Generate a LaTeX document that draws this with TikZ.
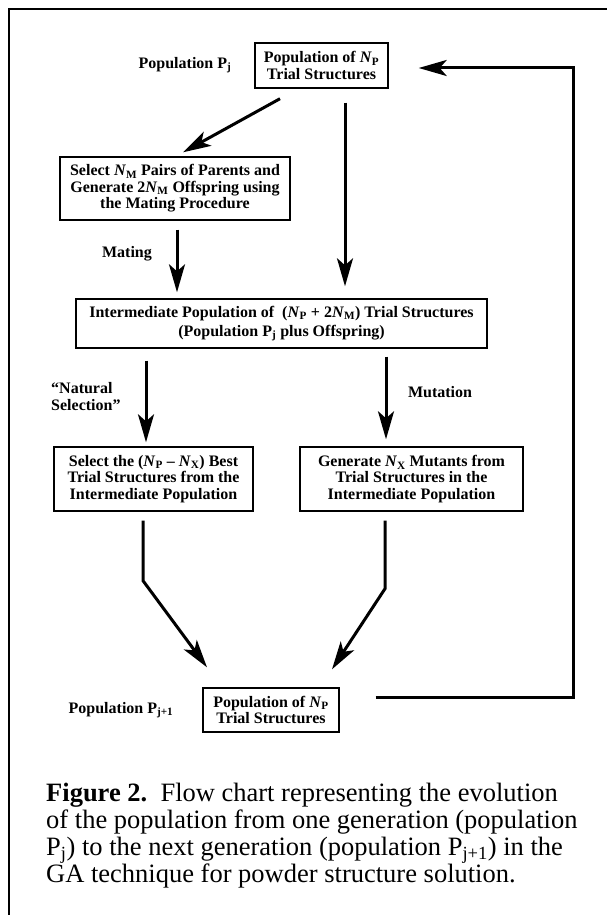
\documentclass[tikz,border=0pt]{standalone}
\usepackage{fontspec}
\setmainfont{Liberation Serif}
\usetikzlibrary{arrows.meta}
\begin{document}
\begin{tikzpicture}[x=1pt,y=-1pt,
  box/.style={draw, line width=1.4pt, inner sep=0pt, align=center, font=\bfseries\fontsize{16}{16.5}\selectfont},
  lbl/.style={inner sep=0pt, font=\bfseries\fontsize{16}{16.5}\selectfont},
  arr/.style={line width=3pt, -{Stealth[length=28pt,width=16pt,inset=7pt]}},
  frame/.style={line width=2pt}]
\useasboundingbox (0,0) rectangle (607,915);
\draw[frame] (9,915) -- (9,9) -- (607,9);

\node[box, minimum width=133pt, minimum height=45pt] (top) at (321.5,65.5) {Population of \textit{N}\textsubscript{P}\\Trial Structures};
\node[lbl] (pj) at (185,65) {Population P\textsubscript{j}};
\node[box, minimum width=230pt, minimum height=63pt] (sel) at (175,188.5) {Select \textit{N}\textsubscript{M} Pairs of Parents and\\Generate 2\textit{N}\textsubscript{M} Offspring using\\the Mating Procedure};
\node[lbl] (mating) at (127,254) {Mating};
\node[box, minimum width=411pt, minimum height=49pt, font=\bfseries\fontsize{16}{19}\selectfont] (inter) at (281.5,323.5) {Intermediate Population of\ \ (\textit{N}\textsubscript{P} + 2\textit{N}\textsubscript{M}) Trial Structures\\(Population P\textsubscript{j} plus Offspring)};
\node[lbl, anchor=west, align=left] (natsel) at (51,396.5) {``Natural\\Selection''};
\node[lbl] (mut) at (440,392) {Mutation};
\node[box, minimum width=199pt, minimum height=64pt] (lbox) at (153.5,479) {Select the (\textit{N}\textsubscript{P} – \textit{N}\textsubscript{X}) Best\\Trial Structures from the\\Intermediate Population};
\node[box, minimum width=223pt, minimum height=64pt] (rbox) at (411.5,479) {Generate \textit{N}\textsubscript{X} Mutants from\\Trial Structures in the\\Intermediate Population};
\node[box, minimum width=136pt, minimum height=44pt] (bot) at (271,710) {Population of \textit{N}\textsubscript{P}\\Trial Structures};
\node[lbl] (pj1) at (121,710) {Population P\textsubscript{j+1}};

\node[anchor=north west, inner sep=0pt, align=left, font=\fontsize{26.5}{27}\selectfont] (cap) at (46,783)
 {\textbf{Figure 2.}\ \ Flow chart representing the evolution\\
  of the population from one generation (population\\
  P\textsubscript{j}) to the next generation (population P\textsubscript{j+1}) in the\\
  GA technique for powder structure solution.};

% arrows (yshift is in canvas direction: positive = up)
\draw[arr] ([xshift=-41.5pt,yshift=-10pt]top.south) -- ([xshift=8pt,yshift=4pt]sel.north);
\draw[arr] ([xshift=23.5pt,yshift=-14pt]top.south) -- ([xshift=63.5pt,yshift=12pt]inter.north);
\draw[arr] ([xshift=2pt,yshift=-9pt]sel.south) -- ([xshift=-104.5pt,yshift=6pt]inter.north);
\draw[arr] ([xshift=-135.5pt,yshift=-12pt]inter.south) -- ([xshift=-7.5pt,yshift=4pt]lbox.north);
\draw[arr] ([xshift=104.5pt,yshift=-8pt]inter.south) -- ([xshift=-25.5pt,yshift=7pt]rbox.north);
\draw[arr] ([xshift=-10.5pt,yshift=-9pt]lbox.south) -- ++(0pt,-60pt) -- ([xshift=-64pt,yshift=20pt]bot.north);
\draw[arr] ([xshift=-26.5pt,yshift=-9pt]rbox.south) -- ++(0pt,-68pt) -- ([xshift=61pt,yshift=18pt]bot.north);
\draw[arr] ([xshift=36pt,yshift=13pt]bot.east) -- ++(198pt,0pt) |- ([xshift=30pt,yshift=-2.5pt]top.east);
\end{tikzpicture}
\end{document}
